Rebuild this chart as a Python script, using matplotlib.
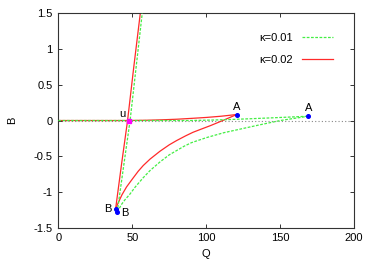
import numpy as np
import matplotlib
matplotlib.use("Agg")
import matplotlib.pyplot as plt

plt.rcParams["font.family"] = ["Liberation Sans", "DejaVu Sans"]
plt.rcParams["font.size"] = 8

# kappa = 0.02 (red)
red_steep_q = [38.7, 42.8, 46.8, 51.0, 55.4]
red_steep_b = [-1.24, -0.60, 0.0, 0.75, 1.5]
red_flat_q = [0, 46.8, 60, 70, 80, 90, 100, 110, 120.6]
red_flat_b = [0, 0, 0.004, 0.01, 0.018, 0.03, 0.043, 0.06, 0.084]
red_curve_q = [38.7, 40.5, 43.0, 46.1, 50.0, 54.0, 57.4, 62.0, 68.7, 75.0,
               80.0, 86.0, 91.0, 96.0, 103.0, 110.0, 120.6]
red_curve_b = [-1.24, -1.15, -1.04, -0.93, -0.82, -0.71, -0.63, -0.54, -0.43, -0.34,
               -0.28, -0.215, -0.165, -0.125, -0.07, -0.01, 0.084]

# kappa = 0.01 (green)
grn_steep_q = [39.8, 44.2, 48.5, 52.6, 56.7]
grn_steep_b = [-1.28, -0.63, 0.0, 0.75, 1.5]
grn_flat_q = [0, 48.5, 89, 105, 116, 130, 145, 169]
grn_flat_b = [0, 0, 0.0, 0.007, 0.014, 0.025, 0.038, 0.06]
grn_curve_q = [39.8, 40.5, 42.5, 45.0, 48.4, 52.0, 57.4, 62.0, 68.7, 75.0, 80.0,
               85.0, 90.0, 100.0, 112.0, 123.0, 134.0, 150.0, 169.0]
grn_curve_b = [-1.28, -1.26, -1.18, -1.11, -1.03, -0.93, -0.80, -0.70, -0.58, -0.48, -0.42,
               -0.36, -0.31, -0.24, -0.17, -0.12, -0.07, 0.0, 0.06]

# fixed points
u_pt = (47.8, 0.0)
a_pts_q = [120.6, 169.0]
a_pts_b = [0.084, 0.06]
b_pts_q = [38.7, 39.8]
b_pts_b = [-1.24, -1.28]

red = "#ff2a2a"
green = "#44ee44"
gdash = (0, (2.2, 1.2))

fig = plt.figure(figsize=(3.74, 2.62), dpi=100)
ax = fig.add_axes([0.156, 0.131, 0.791, 0.818])

ax.axhline(0, color="#888888", lw=0.8, ls=(0, (1, 2)), zorder=1)

ax.plot(grn_steep_q, grn_steep_b, color=green, lw=0.9, ls=gdash, label="κ=0.01", zorder=3)
ax.plot(grn_flat_q, grn_flat_b, color=green, lw=0.9, ls=gdash, zorder=3)
ax.plot(grn_curve_q, grn_curve_b, color=green, lw=0.9, ls=gdash, zorder=3)

ax.plot(red_steep_q, red_steep_b, color=red, lw=0.9, label="κ=0.02", zorder=2)
ax.plot(red_flat_q, red_flat_b, color=red, lw=0.9, zorder=2)
ax.plot(red_curve_q, red_curve_b, color=red, lw=0.9, zorder=2)

ax.plot(a_pts_q, a_pts_b, "o", color="blue", ms=2.6, zorder=5)
ax.plot(b_pts_q, b_pts_b, "o", color="blue", ms=2.6, zorder=5)
ax.plot([u_pt[0]], [u_pt[1]], "s", color="magenta", ms=3, zorder=5)

ax.text(43.4, 0.09, "u", ha="center", va="center")
ax.text(a_pts_q[0], 0.19, "A", ha="center", va="center")
ax.text(a_pts_q[1], 0.18, "A", ha="center", va="center")
ax.text(33.7, -1.24, "B", ha="center", va="center")
ax.text(45.0, -1.3, "B", ha="center", va="center")

ax.set_xlim(0, 200)
ax.set_ylim(-1.5, 1.5)
ax.set_xticks([0, 50, 100, 150, 200])
ax.set_yticks([-1.5, -1, -0.5, 0, 0.5, 1, 1.5])
ax.set_yticklabels(["-1.5", "-1", "-0.5", "0", "0.5", "1", "1.5"])
ax.tick_params(direction="in", length=3, width=0.7, top=True, right=True,
               colors="#333333", labelcolor="black", pad=4)
for s in ax.spines.values():
    s.set_color("#333333")
    s.set_linewidth(0.8)

ax.set_xlabel("Q", labelpad=4)
ax.set_ylabel("B", labelpad=12)

ax.legend(loc="upper right", frameon=False, markerfirst=False, handlelength=2.8,
          borderaxespad=0.6, labelspacing=1.1, handletextpad=0.8,
          bbox_to_anchor=(0.965, 0.96))

fig.savefig("out.png", dpi=100)
